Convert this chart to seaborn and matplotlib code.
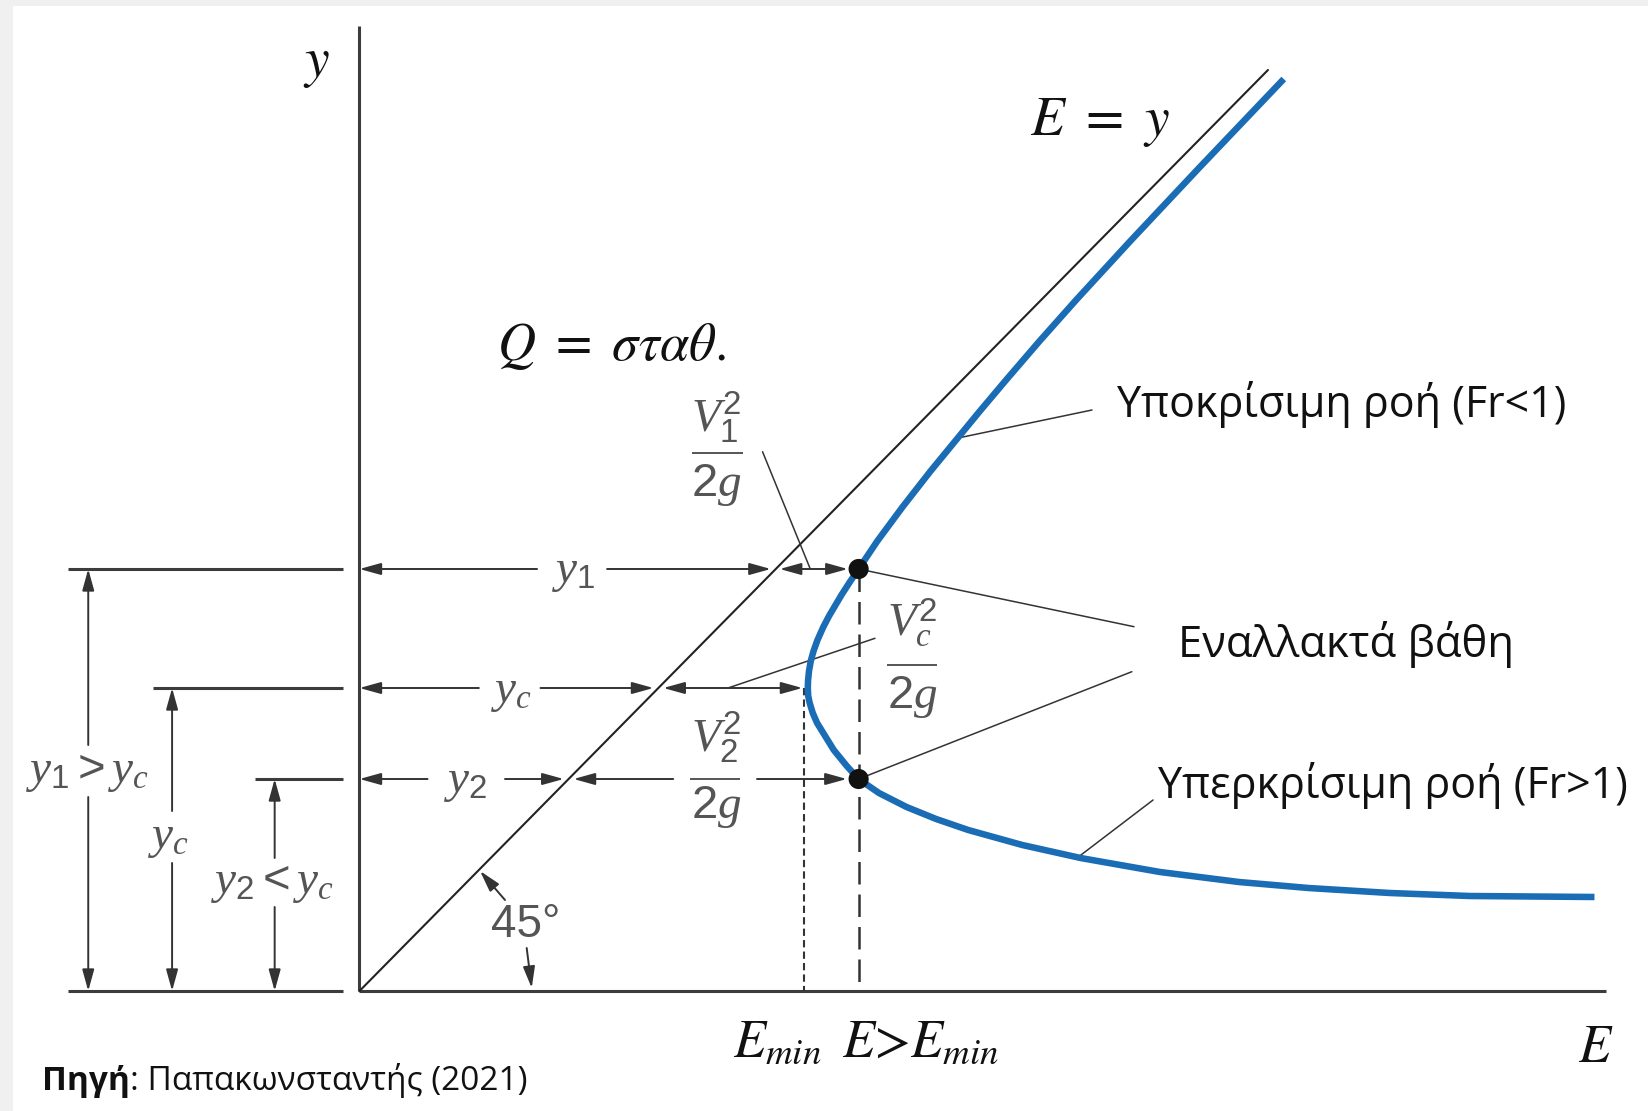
import numpy as np
import pandas as pd
import seaborn as sns
import matplotlib
matplotlib.use("Agg")
import matplotlib.pyplot as plt
from matplotlib.patches import Rectangle, ArrowStyle

# ---------------- diagram values (length units) ----------------
Y1 = 4.22       # subcritical alternate depth
YC = 3.03       # critical depth
Y2 = 2.12       # supercritical alternate depth
E_ALT = 5.06    # specific energy shared by the two alternate depths
E_MIN = 4.51    # minimum specific energy, reached at y = yc

# specific-energy curve for constant discharge (subcritical branch first)
curve_E = [9.37, 8.52, 7.815, 7.265, 6.895, 6.555, 6.29, 6.065, 5.79, 5.505,
           5.25, 5.06, 4.971, 4.886, 4.760, 4.702, 4.643, 4.603, 4.575, 4.557,
           4.547, 4.545, 4.549, 4.564, 4.595, 4.639, 4.808, 4.940, 5.06, 5.266,
           5.546, 5.846, 6.171, 6.719, 7.31, 8.115, 8.915, 9.62, 10.445,
           11.255, 12.52]
curve_y = [9.12, 8.24, 7.50, 6.91, 6.50, 6.11, 5.80, 5.53, 5.20, 4.84,
           4.50, 4.22, 4.09, 3.96, 3.75, 3.64, 3.51, 3.40, 3.30, 3.20,
           3.10, 3.03, 2.95, 2.88, 2.78, 2.68, 2.41, 2.25, 2.12, 1.98,
           1.84, 1.72, 1.61, 1.46, 1.33, 1.19, 1.09, 1.03, 0.98,
           0.95, 0.94]

E_LINE_END = 9.21     # end of the E = y reference line
Y_AXIS_TOP = 9.65
E_AXIS_END = 12.64

# ---------------- styling ----------------
BLUE = "#1a6cb4"
AXIS = "#3c3c3c"
DIM = "#333333"
GREY_TXT = "#555555"
INK = "#111111"

sns.set_theme(style="white")
plt.rcParams.update({
    "mathtext.fontset": "stix",
    "mathtext.rm": "Liberation Sans",
    "mathtext.it": "Liberation Serif:italic",
    "mathtext.bf": "Liberation Sans:bold",
})
GREEK = ["Open Sans", "DejaVu Sans"]

W, H = 1649, 1111
fig = plt.figure(figsize=(W / 100, H / 100), dpi=100, facecolor="#f0f0f0")
fig.add_artist(Rectangle((13 / W, 0), 1, (H - 6) / H, transform=fig.transFigure,
                         facecolor="white", edgecolor="none", zorder=0))

ax = fig.add_axes([0, 0, 1, 1])
ax.set_facecolor("none")
ox, oy, sx, sy = 359.5, 991.0, 98.64, 100.0   # origin pixel and pixels per unit
ax.set_xlim((0 - ox) / sx, (W - ox) / sx)
ax.set_ylim((oy - H) / sy, oy / sy)
ax.axis("off")

# ---------------- axes of the diagram ----------------
ax.plot([0, 0], [0, Y_AXIS_TOP], color=AXIS, lw=2.2, solid_capstyle="butt")
ax.plot([0, E_AXIS_END], [0, 0], color=AXIS, lw=2.2, solid_capstyle="butt")

# extension lines to the left of the y axis
ext_left = {0.0: -2.955, Y1: -2.955, YC: -2.09, Y2: -1.06}
for lev, x0 in ext_left.items():
    ax.plot([x0, -0.165], [lev, lev], color=AXIS, lw=2.2, solid_capstyle="butt")

# ---------------- E = y line and energy curve ----------------
sns.lineplot(x=[0, E_LINE_END], y=[0, E_LINE_END], color="#222222", lw=1.5,
             ax=ax, estimator=None, sort=False)
df = pd.DataFrame({"E": curve_E, "y": curve_y})
sns.lineplot(data=df, x="E", y="y", sort=False, estimator=None, color=BLUE,
             lw=4.7, ax=ax, solid_capstyle="butt", solid_joinstyle="round",
             zorder=4)

# dashed guides
ax.plot([E_ALT, E_ALT], [Y1, 0], color=DIM, lw=1.8, ls=(0, (9, 4)), zorder=3)
ax.plot([E_MIN, E_MIN], [YC, 0], color=DIM, lw=1.5, ls=(0, (3.5, 2)), zorder=3)

# alternate-depth points
sns.scatterplot(x=[E_ALT, E_ALT], y=[Y1, Y2], s=210, color=INK, edgecolor="none",
                ax=ax, zorder=6)

# ---------------- dimension arrows ----------------
ONE = ArrowStyle("-|>", head_length=13, head_width=3.6)
TWO = ArrowStyle("<|-|>", head_length=13, head_width=3.6)


def arrow(x0, y0, x1, y1, style=ONE):
    ax.annotate("", xy=(x1, y1), xytext=(x0, y0),
                arrowprops=dict(arrowstyle=style, mutation_scale=1, lw=1.4,
                                color=DIM, shrinkA=0, shrinkB=0,
                                joinstyle="round"))


# vertical depth arrows on the left: (x, level, gap bottom, gap top)
for x, lev, g0, g1 in [(-2.75, Y1, 1.94, 2.46), (-1.90, YC, 1.28, 1.80),
                       (-0.86, Y2, 0.84, 1.33)]:
    arrow(x, g0, x, 0.0)
    arrow(x, g1, x, lev)

# horizontal rows to the right of the y axis
arrow(1.80, Y1, 0.0, Y1)
arrow(2.51, Y1, 4.17, Y1)
arrow(4.26, Y1, 4.95, Y1, TWO)

arrow(1.21, YC, 0.0, YC)
arrow(1.835, YC, 2.98, YC)
arrow(3.08, YC, 4.49, YC, TWO)

arrow(0.69, Y2, 0.0, Y2)
arrow(1.475, Y2, 2.07, Y2)
arrow(3.18, Y2, 2.17, Y2)
arrow(4.03, Y2, 4.94, Y2)

# 45 degree marker
arrow(1.475, 0.91, 1.222, 1.20)
arrow(1.695, 0.43, 1.746, 0.03)

# ---------------- leader lines ----------------
leaders = [((4.086, 5.393), (4.57, Y1)),
           ((3.736, YC), (5.226, 3.527)),
           ((6.054, 5.527), (7.426, 5.81)),
           ((E_ALT, Y1), (7.852, 3.643)),
           ((E_ALT, Y2), (7.83, 3.193)),
           ((7.274, 1.33), (8.045, 1.91))]
for (a, b), (c, d) in leaders:
    ax.plot([a, c], [b, d], color=DIM, lw=1.1, zorder=3)

# ---------------- labels ----------------
def grey(x, y, s, size=34, **kw):
    ax.text(x, y, s, color=GREY_TXT, fontsize=size, ha="center", va="center",
            math_fontfamily="custom", **kw)


grey(2.175, Y1 - 0.03, r"$y_1$")
grey(1.545, YC - 0.03, r"$y_c$")
grey(1.08, Y2 - 0.03, r"$y_2$")
grey(-2.757, 2.20, r"$y_1 > y_c$")
grey(-1.94, 1.54, r"$y_c$")
grey(-0.88, 1.085, r"$y_2 < y_c$")
ax.text(1.68, 0.66, "45°", color=GREY_TXT, fontsize=33, ha="center",
        va="center", family="Liberation Sans")

# velocity-head fractions: (numerator, centre x, numerator y, bar y, denominator y, bar x0, bar x1)
fractions = [(r"$V_1^2$", 3.62, 5.74, 5.38, 5.06, 3.37, 3.89),
             (r"$V_c^2$", 5.60, 3.68, 3.26, 2.94, 5.345, 5.85),
             (r"$V_2^2$", 3.62, 2.54, Y2, 1.84, 3.35, 3.86)]
for num, cx, ny, by, dy, bx0, bx1 in fractions:
    grey(cx, ny, num)
    grey(cx, dy, r"$2g$")
    ax.plot([bx0, bx1], [by, by], color=GREY_TXT, lw=1.4, solid_capstyle="butt")

# black serif math labels
ax.text(-0.44, 9.28, r"$y$", fontsize=40, color=INK, ha="center", va="center")
ax.text(7.51, 8.56, r"$E\ =\ y$", fontsize=40, color=INK, ha="center",
        va="baseline")
ax.text(2.55, 6.31, r"$Q\ =\ \sigma\tau\alpha\theta.$", fontsize=38, color=INK,
        ha="center", va="baseline")
ax.text(12.53, -0.707, r"$E$", fontsize=38, color=INK, ha="center", va="baseline")
ax.text(4.24, -0.657, r"$E_{min}$", fontsize=38, color=INK, ha="center",
        va="baseline")
ax.text(5.69, -0.657, r"$E$>$E_{min}$", fontsize=38, color=INK, ha="center",
        va="baseline", family="STIXGeneral")

# Greek annotations
ax.text(7.68, 5.74, "Υποκρίσιμη ροή (Fr<1)", fontsize=31, color=INK,
        family=GREEK, ha="left", va="baseline")
ax.text(8.30, 3.343, "Εναλλακτά βάθη", fontsize=31.5, color=INK,
        family=GREEK, ha="left", va="baseline")
ax.text(8.10, 1.927, "Υπερκρίσιμη ροή (Fr>1)", fontsize=31, color=INK,
        family=GREEK, ha="left", va="baseline")

# source line
src = ax.text(-3.219, -0.99, "Πηγή", fontsize=24, color=INK, family=GREEK,
              weight="bold", ha="left", va="baseline")
ax.annotate(": Παπακωνσταντής (2021)", xy=(1, 0), xycoords=src, fontsize=24,
            color=INK, family=GREEK, ha="left", va="bottom")

fig.savefig("out.png", dpi=100, facecolor=fig.get_facecolor())
